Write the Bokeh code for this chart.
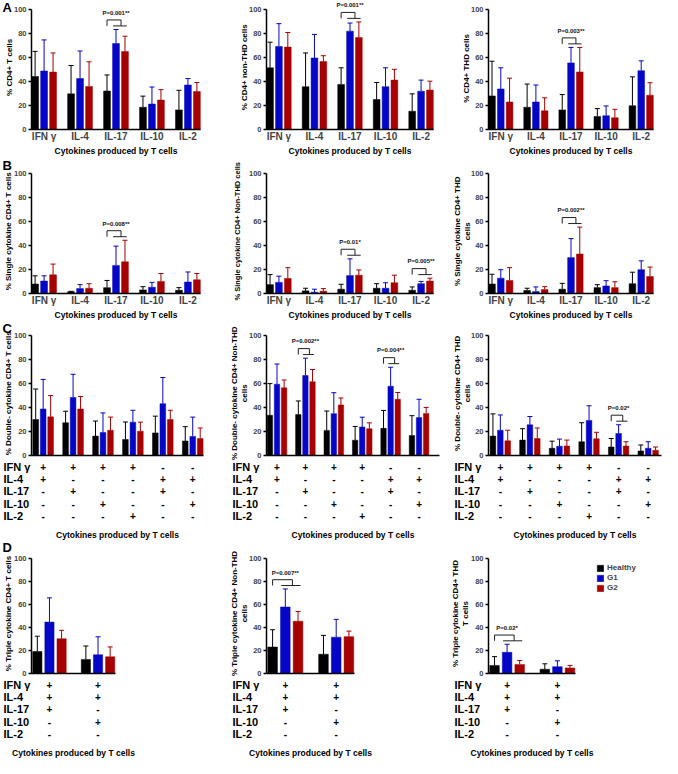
import numpy as np
from bokeh.plotting import figure
from bokeh.models import (Range1d, FixedTicker, ColumnDataSource, Whisker, TeeHead,
                          LinearAxis, Label, Legend, LegendItem)
from bokeh.layouts import column, row
from bokeh.core.properties import value
from bokeh.embed import file_html
from bokeh.resources import INLINE

FONT = "Liberation Sans"

# ---------------- data ----------------
cytokines = ["IFN γ", "IL-4", "IL-17", "IL-10", "IL-2"]
series_names = ["Healthy", "G1", "G2"]
series_colors = ["#000000", "#0606C6", "#A60000"]
x_title = "Cytokines produced by T cells"

# +/- table rows (IFN γ, IL-4, IL-17, IL-10, IL-2) for each combination
double_signs = [
    ["+", "+", "+", "+", "-", "-"],
    ["+", "-", "-", "-", "+", "+"],
    ["-", "+", "-", "-", "+", "-"],
    ["-", "-", "+", "-", "-", "+"],
    ["-", "-", "-", "+", "-", "-"],
]
triple_signs = [
    ["+", "+"],
    ["+", "+"],
    ["+", "-"],
    ["-", "+"],
    ["-", "-"],
]

# y-axis titles (one entry per text line)
a1_title = ["% CD4+ T cells"]
a2_title = ["% CD4+ non-THD cells"]
a3_title = ["% CD4+ THD  cells"]
b1_title = ["% Single cytokine CD4+ T cells"]
b2_title = ["% Single cytokine CD4+ Non-THD cells"]
b3_title = ["% Single cytokine CD4+ THD", "cells"]
c1_title = ["% Double- cytokine CD4+ T cells"]
c2_title = ["% Double- cytokine CD4+ Non-THD", "cells"]
c3_title = ["% Double- cytokine CD4+ THD", "cells"]
d1_title = ["% Triple cytokine CD4+ T cells"]
d2_title = ["% Triple cytokine CD4+ Non-THD", "cells"]
d3_title = ["% Triple cytokine CD4+ THD", "T cells"]

# Panel A: cytokine producing cells (mean, mean+SD)
a1_healthy = [44.3, 29.8, 32.2, 18.6, 16.4]; a1_healthy_up = [65.3, 53.5, 45.6, 27.9, 32.8]
a1_g1 = [48.9, 42.6, 71.9, 21.3, 37.2];      a1_g1_up = [74.9, 65.6, 83.6, 35.5, 42.6]
a1_g2 = [48.0, 36.0, 65.3, 24.6, 31.7];      a1_g2_up = [64.0, 56.6, 78.0, 33.3, 39.3]

a2_healthy = [51.6, 35.8, 37.7, 25.1, 15.3]; a2_healthy_up = [73.0, 64.0, 51.6, 39.3, 29.8]
a2_g1 = [69.4, 59.8, 82.2, 35.8, 32.0];      a2_g1_up = [88.5, 79.5, 89.0, 51.6, 41.3]
a2_g2 = [68.9, 56.8, 77.0, 41.3, 33.0];      a2_g2_up = [81.1, 61.7, 89.9, 50.3, 40.4]

a3_healthy = [28.1, 18.6, 16.4, 10.9, 19.9]; a3_healthy_up = [57.1, 38.0, 29.2, 17.5, 44.0]
a3_g1 = [33.9, 23.0, 55.7, 11.5, 49.2];      a3_g1_up = [51.6, 37.2, 68.6, 19.7, 57.4]
a3_g2 = [23.0, 15.6, 48.1, 9.8, 28.7];       a3_g2_up = [42.9, 26.5, 68.6, 16.9, 39.1]

# Panel B: single cytokine
b1_healthy = [7.9, 1.4, 4.9, 3.0, 2.7];      b1_healthy_up = [14.8, 1.8, 10.9, 5.7, 4.9]
b1_g1 = [10.4, 4.1, 23.5, 5.2, 9.6];         b1_g1_up = [14.8, 7.4, 39.6, 9.3, 18.0]
b1_g2 = [15.6, 4.4, 26.5, 10.1, 11.5];       b1_g2_up = [24.6, 8.2, 44.5, 16.7, 16.7]

b2_healthy = [7.4, 2.2, 3.6, 4.4, 2.7];      b2_healthy_up = [15.8, 4.4, 7.7, 8.2, 5.5]
b2_g1 = [9.3, 1.1, 15.0, 4.4, 8.2];          b2_g1_up = [14.5, 3.6, 29.0, 9.0, 10.1]
b2_g2 = [12.6, 1.9, 15.3, 9.0, 10.4];        b2_g2_up = [21.6, 4.1, 19.7, 15.3, 12.8]

b3_healthy = [7.9, 2.5, 3.6, 4.9, 8.2];      b3_healthy_up = [16.1, 4.4, 8.5, 7.4, 17.8]
b3_g1 = [12.8, 1.6, 30.0, 6.3, 19.9];        b3_g1_up = [19.9, 5.5, 45.9, 10.7, 27.3]
b3_g2 = [10.9, 3.3, 33.0, 4.9, 14.2];        b3_g2_up = [21.6, 5.7, 55.5, 9.8, 22.1]

# Panel C: double cytokine
c1_healthy = [30.1, 27.4, 16.2, 13.4, 18.9, 12.1]; c1_healthy_up = [55.6, 37.0, 28.8, 28.0, 32.9, 24.1]
c1_g1 = [38.9, 48.5, 19.2, 27.9, 43.3, 15.9];      c1_g1_up = [63.6, 67.9, 35.6, 37.8, 65.2, 32.1]
c1_g2 = [32.3, 38.9, 21.1, 20.3, 30.1, 14.2];      c1_g2_up = [50.1, 49.3, 32.1, 27.9, 37.8, 23.0]

c2_healthy = [33.6, 34.2, 21.0, 12.8, 22.7, 16.7]; c2_healthy_up = [60.1, 45.6, 37.2, 24.3, 37.7, 33.3]
c2_g1 = [59.6, 66.9, 35.0, 23.8, 57.9, 31.7];      c2_g1_up = [76.5, 81.4, 52.5, 32.0, 73.8, 47.0]
c2_g2 = [56.6, 61.7, 42.3, 22.4, 47.0, 35.2];      c2_g2_up = [63.1, 71.9, 48.1, 27.3, 52.7, 40.2]

c3_healthy = [16.2, 12.9, 6.0, 11.5, 7.1, 3.8];    c3_healthy_up = [34.8, 22.4, 12.0, 27.4, 14.2, 8.8]
c3_g1 = [21.1, 25.7, 7.7, 29.3, 18.4, 6.0];        c3_g1_up = [33.9, 32.6, 13.7, 41.6, 25.7, 11.5]
c3_g2 = [12.3, 14.2, 7.9, 14.0, 7.9, 4.4];         c3_g2_up = [21.1, 23.0, 12.9, 19.4, 11.5, 7.1]

# Panel D: triple cytokine
d1_healthy = [19.0, 12.2]; d1_healthy_up = [32.3, 23.8]
d1_g1 = [44.5, 16.2];      d1_g1_up = [65.5, 31.8]
d1_g2 = [30.1, 14.5];      d1_g2_up = [37.4, 23.0]

d2_healthy = [22.9, 16.7]; d2_healthy_up = [37.9, 33.0]
d2_g1 = [57.6, 31.4];      d2_g1_up = [73.2, 46.9]
d2_g2 = [45.2, 31.9];      d2_g2_up = [53.7, 36.7]

d3_healthy = [7.0, 3.7];   d3_healthy_up = [14.6, 8.4]
d3_g1 = [18.3, 5.9];       d3_g1_up = [25.3, 11.0]
d3_g2 = [7.9, 4.8];        d3_g2_up = [11.2, 7.0]

# significance annotations: (group number, text)
a1_sig = [(3, "P=0.001**")]
a2_sig = [(3, "P=0.001**")]
a3_sig = [(3, "P=0.003**")]
b1_sig = [(3, "P=0.008**")]
b2_sig = [(3, "P=0.01*"), (5, "P=0.005**")]
b3_sig = [(3, "P=0.002**")]
c1_sig = []
c2_sig = [(2, "P=0.002**"), (5, "P=0.004**")]
c3_sig = [(5, "P=0.02*")]
d1_sig = []
d2_sig = [(1, "P=0.007**")]
d3_sig = [(1, "P=0.02*")]

# ---------------- layout constants (pixels) ----------------
COL_W = [220, 220, 222]
LEFT = [31, 46, 48]                      # y-axis position from figure left
ROW = {  # figure height, y=0 position from top, pixels per data unit, right gap per column
    "A": dict(h=157, zero=129, ppu=1.196, right=[20, 7, 9]),
    "B": dict(h=164, zero=136, ppu=1.196, right=[20, 7, 9]),
    "C": dict(h=219, zero=134, ppu=1.196, right=[17, 1, 1]),
    "D": dict(h=218, zero=133, ppu=1.155, right=[105, 86, 87]),
}
XR = {"A": [(0.65, 5.35)] * 3, "B": [(0.65, 5.35)] * 3,
      "C": [(0.61, 6.36), (0.63, 6.72), (0.6, 6.45)],
      "D": [(0.63, 2.36)] * 3}
TITLE_X = {"A": [[9], [24], [26]], "B": [[8], [17], [17, 27]],
           "C": [[8], [14, 24], [17, 27]], "D": [[8], [14, 24], [15, 25]]}
TITLE_SIZE = {"B2": "7.5px"}
LETTER_PX = {"A": 7, "B": 8, "C": 7, "D": 7}     # letter centre from figure top
XTITLE_PX = {"A": 21, "B": 21, "C": 79, "D": 79}  # x title centre below y=0
TABLE_PX = [11, 23, 35, 48, 60]                   # table rows below y=0
ROWLAB_X = [3, 12, 14]
OFFS = [-0.25, 0.0, 0.25]
BAR_W = 0.19


def make_panel(rowkey, col, titles, means, ups, sig, letter=None, legend=False):
    spec = ROW[rowkey]
    W, H, ppu = COL_W[col], spec["h"], spec["ppu"]
    xs0, xs1 = XR[rowkey][col]
    ppx = (W - LEFT[col] - spec["right"][col]) / (xs1 - xs0)
    x_lo = xs0 - LEFT[col] / ppx
    x_hi = xs1 + spec["right"][col] / ppx
    y_hi = spec["zero"] / ppu
    y_lo = -(H - spec["zero"]) / ppu

    p = figure(width=W, height=H, x_range=Range1d(x_lo, x_hi), y_range=Range1d(y_lo, y_hi),
               output_backend="svg", toolbar_location=None,
               x_axis_location=None, y_axis_location=None,
               min_border_left=0, min_border_right=0, min_border_top=0, min_border_bottom=0)
    p.grid.visible = False
    p.outline_line_color = None

    n = len(means[0])
    groups = list(range(1, n + 1))
    table = rowkey in ("C", "D")

    # y axis, fixed at the left end of the bar area
    ya = LinearAxis(fixed_location=xs0, bounds=(0, 100),
                    ticker=FixedTicker(ticks=[0, 20, 40, 60, 80, 100]))
    ya.axis_line_width = 1.5
    ya.major_tick_line_width = 1.5
    ya.major_tick_out = 3
    ya.major_tick_in = 0
    ya.minor_tick_out = 0
    ya.minor_tick_in = 0
    ya.major_label_text_font = FONT
    ya.major_label_text_font_style = "bold"
    ya.major_label_text_font_size = "7.5px"
    ya.major_label_standoff = 2
    p.add_layout(ya, "left")

    # x axis (baseline) fixed at y = 0
    xa = LinearAxis(fixed_location=0, bounds=(xs0, xs1))
    xa.axis_line_width = 1.5
    xa.major_tick_out = 0
    xa.major_tick_in = 0
    xa.minor_tick_out = 0
    xa.minor_tick_in = 0
    if not table:
        xa.ticker = FixedTicker(ticks=groups)
        xa.major_label_overrides = {g: cytokines[g - 1] for g in groups}
        xa.major_label_text_font = FONT
        xa.major_label_text_font_style = "bold"
        xa.major_label_text_font_size = "10px"
        xa.major_label_standoff = 1
    else:
        xa.ticker = FixedTicker(ticks=[])
        xa.major_label_text_font_size = "0px"
    p.add_layout(xa, "below")

    # axis titles
    key = f"{rowkey}{col + 1}"
    for line, tx in zip(titles, TITLE_X[rowkey][col]):
        p.add_layout(Label(x=tx, y=52, x_units="screen", y_units="data", text=line,
                           angle=90, angle_units="deg", text_align="center",
                           text_baseline="middle", text_font=FONT, text_font_style="bold",
                           text_font_size=TITLE_SIZE.get(key, "8px"), text_color="black"))
    p.add_layout(Label(x=(xs0 + xs1) / 2, y=-XTITLE_PX[rowkey] / ppu, text=x_title,
                       text_align="center", text_baseline="middle", text_font=FONT,
                       text_font_style="bold", text_font_size="8.5px", text_color="black"))

    renderers = []
    for s in range(3):
        c = series_colors[s]
        src = ColumnDataSource(dict(x=[g + OFFS[s] for g in groups], top=means[s], upper=ups[s]))
        r = p.vbar(x="x", top="top", bottom=0, width=BAR_W, source=src,
                   fill_color=c, line_color=c, line_width=0.5)
        renderers.append(r)
        p.add_layout(Whisker(source=src, base="x", upper="upper", lower="top",
                             dimension="height", line_color=c, line_width=1,
                             upper_head=TeeHead(size=5, line_color=c, line_width=1),
                             lower_head=None))

    # significance brackets
    for g, txt in sig:
        base = max(ups[s][g - 1] for s in range(3))
        lo, hi, ty = base + 3, base + 8, base + 14
        left, midr = g - 0.25, g + 0.14
        p.multi_line(xs=[[left, left], [left, midr], [midr, midr], [g - 0.08, g + 0.3]],
                     ys=[[lo, hi], [hi, hi], [hi, lo], [lo, lo]],
                     line_color="#222222", line_width=1)
        p.text(x=[g], y=[ty], text=[txt], text_align="center", text_baseline="middle",
               text_font=value(FONT), text_font_style="bold", text_font_size="6px",
               text_color="#111111")

    if table:
        signs = double_signs if rowkey == "C" else triple_signs
        for ri, lab in enumerate(cytokines):
            yv = -TABLE_PX[ri] / ppu
            p.text(x=groups, y=[yv] * n, text=signs[ri], text_align="center",
                   text_baseline="middle", text_font=value(FONT), text_font_style="bold",
                   text_font_size="10px", text_color="black")
            p.add_layout(Label(x=ROWLAB_X[col], y=yv, x_units="screen", y_units="data",
                               text=lab, text_align="left", text_baseline="middle",
                               text_font=FONT, text_font_style="bold",
                               text_font_size="11px", text_color="black"))

    if letter:
        p.add_layout(Label(x=2, y=(spec["zero"] - LETTER_PX[rowkey]) / ppu, x_units="screen",
                           y_units="data", text=letter, text_align="left",
                           text_baseline="middle", text_font=FONT, text_font_style="bold",
                           text_font_size="13px", text_color="black"))

    if legend:
        items = [LegendItem(label=series_names[s], renderers=[renderers[s]]) for s in range(3)]
        lg = Legend(items=items, location=(156, H - 52), padding=0, margin=0,
                    border_line_color=None, background_fill_alpha=0,
                    glyph_width=8, glyph_height=8, label_standoff=3, spacing=1,
                    label_text_font=FONT, label_text_font_style="bold",
                    label_text_font_size="8px", label_height=9)
        p.add_layout(lg)
    return p


pA1 = make_panel("A", 0, a1_title, [a1_healthy, a1_g1, a1_g2], [a1_healthy_up, a1_g1_up, a1_g2_up], a1_sig, letter="A")
pA2 = make_panel("A", 1, a2_title, [a2_healthy, a2_g1, a2_g2], [a2_healthy_up, a2_g1_up, a2_g2_up], a2_sig)
pA3 = make_panel("A", 2, a3_title, [a3_healthy, a3_g1, a3_g2], [a3_healthy_up, a3_g1_up, a3_g2_up], a3_sig)

pB1 = make_panel("B", 0, b1_title, [b1_healthy, b1_g1, b1_g2], [b1_healthy_up, b1_g1_up, b1_g2_up], b1_sig, letter="B")
pB2 = make_panel("B", 1, b2_title, [b2_healthy, b2_g1, b2_g2], [b2_healthy_up, b2_g1_up, b2_g2_up], b2_sig)
pB3 = make_panel("B", 2, b3_title, [b3_healthy, b3_g1, b3_g2], [b3_healthy_up, b3_g1_up, b3_g2_up], b3_sig)

pC1 = make_panel("C", 0, c1_title, [c1_healthy, c1_g1, c1_g2], [c1_healthy_up, c1_g1_up, c1_g2_up], c1_sig, letter="C")
pC2 = make_panel("C", 1, c2_title, [c2_healthy, c2_g1, c2_g2], [c2_healthy_up, c2_g1_up, c2_g2_up], c2_sig)
pC3 = make_panel("C", 2, c3_title, [c3_healthy, c3_g1, c3_g2], [c3_healthy_up, c3_g1_up, c3_g2_up], c3_sig)

pD1 = make_panel("D", 0, d1_title, [d1_healthy, d1_g1, d1_g2], [d1_healthy_up, d1_g1_up, d1_g2_up], d1_sig, letter="D")
pD2 = make_panel("D", 1, d2_title, [d2_healthy, d2_g1, d2_g2], [d2_healthy_up, d2_g1_up, d2_g2_up], d2_sig)
pD3 = make_panel("D", 2, d3_title, [d3_healthy, d3_g1, d3_g2], [d3_healthy_up, d3_g1_up, d3_g2_up], d3_sig, legend=True)

layout = column(row(pA1, pA2, pA3), row(pB1, pB2, pB3), row(pC1, pC2, pC3), row(pD1, pD2, pD3))

open("out.html", "w").write(file_html(layout, INLINE))
